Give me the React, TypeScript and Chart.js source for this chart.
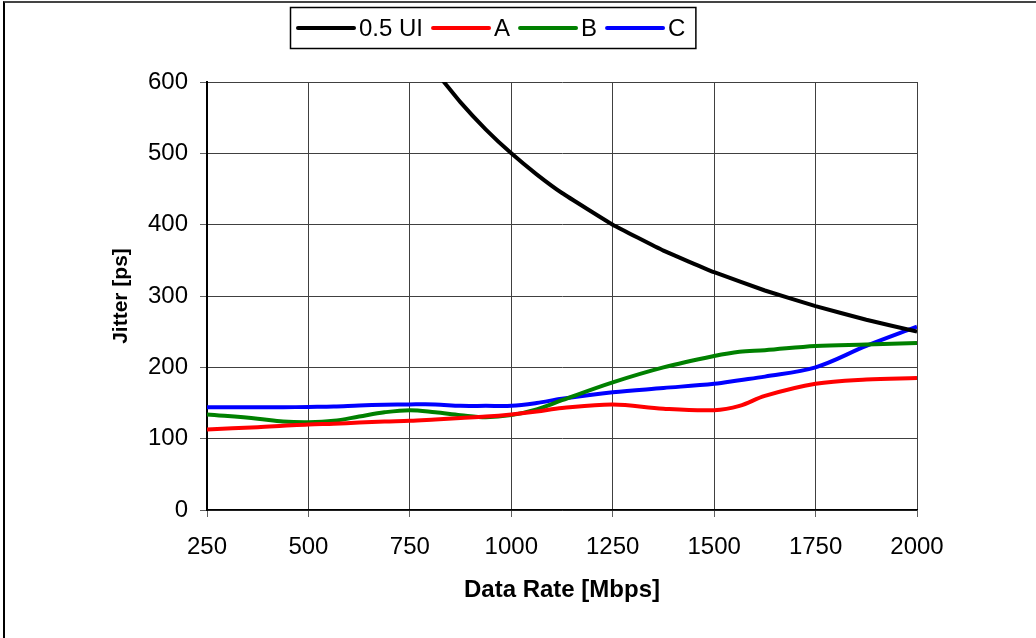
import React, { useEffect, useRef } from 'react';
import { Chart, registerables } from 'chart.js';

Chart.register(...registerables);

const FONT = '"Liberation Sans", Arial, Helvetica, sans-serif';

// Data rates [Mbps]
const uiRates = [750, 812.5, 875, 937.5, 1000, 1062.5, 1125, 1250, 1375, 1500, 1625, 1750, 1875, 2000];
const uiHalf = [666.7, 615.4, 571.4, 533.3, 500, 470.6, 444.4, 400, 363.6, 333.3, 307.7, 285.7, 266.7, 250];

const rates = [250, 375, 437.5, 500, 562.5, 625, 687.5, 750, 812.5, 875, 937.5, 1000, 1062.5, 1125, 1250, 1375, 1500, 1562.5, 1625, 1750, 1875, 2000];
const seriesA = [113, 116, 118, 120, 121, 122.5, 124, 125, 127, 129, 131, 134, 138, 143, 148, 142, 140, 146, 160, 177, 183, 185];
const seriesB = [134, 128, 124, 123, 125, 131, 137, 140, 137, 133, 130, 133, 141, 154, 179, 200, 216, 222, 224, 230, 232, 234];
const seriesC = [144, 144, 144, 144.5, 145, 146.5, 147.5, 148, 148, 146, 146, 146, 150, 156, 165, 171, 177, 182, 187, 200, 230, 257];

const legendLabels = ['0.5 UI', 'A', 'B', 'C'];
const seriesColors = ['#000000', '#ff0000', '#008000', '#0000ff'];

const xTicks = [250, 500, 750, 1000, 1250, 1500, 1750, 2000];
const yTicks = [0, 100, 200, 300, 400, 500, 600];

const xTitle = 'Data Rate [Mbps]';
const yTitle = 'Jitter [ps]';

const toPoints = (xs: number[], ys: number[]) => xs.map((x, i) => ({ x, y: ys[i] }));

const boxLegend = {
  id: 'boxLegend',
  afterDraw(chart: any) {
    const ctx = chart.ctx as CanvasRenderingContext2D;
    ctx.save();
    ctx.font = `24px ${FONT}`;
    const sample = 56;
    const gapText = 5;
    const gapItem = 10;
    const padL = 8;
    const padR = 10;
    const widths = legendLabels.map((l) => ctx.measureText(l).width);
    const total =
      padL + widths.reduce((s, w) => s + sample + gapText + w, 0) + gapItem * (legendLabels.length - 1) + padR;
    const cx = 488;
    const left = Math.round(cx - total / 2);
    const top = 4;
    const height = 41;
    ctx.fillStyle = '#ffffff';
    ctx.fillRect(left, top, total, height);
    ctx.strokeStyle = '#000000';
    ctx.lineWidth = 1.5;
    ctx.strokeRect(left + 0.5, top + 0.5, total, height);
    const cy = top + height / 2 + 0.5;
    let x = left + padL;
    legendLabels.forEach((label, i) => {
      ctx.strokeStyle = seriesColors[i];
      ctx.lineWidth = 4;
      ctx.lineCap = 'round';
      ctx.beginPath();
      ctx.moveTo(x, cy);
      ctx.lineTo(x + sample, cy);
      ctx.stroke();
      x += sample + gapText;
      ctx.fillStyle = '#000000';
      ctx.textBaseline = 'middle';
      ctx.textAlign = 'left';
      ctx.fillText(label, x, cy + 1);
      x += widths[i] + gapItem;
    });
    ctx.restore();
  },
};

export default function App() {
  const ref = useRef<HTMLCanvasElement | null>(null);

  useEffect(() => {
    if (!ref.current) return;
    const lineDs = (label: string, data: any[], color: string, tension: number) => ({
      label,
      data,
      borderColor: color,
      backgroundColor: color,
      borderWidth: 4,
      pointRadius: 0,
      tension,
      fill: false,
    });
    const chart = new Chart(ref.current, {
      type: 'line',
      data: {
        datasets: [
          lineDs(legendLabels[0], toPoints(uiRates, uiHalf), seriesColors[0], 0.1),
          lineDs(legendLabels[1], toPoints(rates, seriesA), seriesColors[1], 0.35),
          lineDs(legendLabels[2], toPoints(rates, seriesB), seriesColors[2], 0.35),
          lineDs(legendLabels[3], toPoints(rates, seriesC), seriesColors[3], 0.35),
        ],
      },
      options: {
        responsive: false,
        animation: false,
        layout: { padding: { left: 0, top: 79, right: 119, bottom: 28 } },
        plugins: {
          legend: { display: false },
          tooltip: { enabled: false },
        },
        scales: {
          x: {
            type: 'linear',
            min: 250,
            max: 2000,
            afterBuildTicks: (scale: any) => {
              scale.ticks = xTicks.map((v) => ({ value: v }));
            },
            afterFit: (scale: any) => {
              scale.height = 100;
            },
            grid: { color: '#404040', lineWidth: 1, tickLength: 7, tickColor: '#606060' },
            border: { color: '#000000', width: 1.5 },
            ticks: {
              color: '#000000',
              font: { family: FONT, size: 24 },
              padding: 16,
              maxRotation: 0,
              autoSkip: false,
              callback: (v: any) => String(v),
            },
            title: {
              display: true,
              text: xTitle,
              color: '#000000',
              font: { family: FONT, size: 24, weight: 'bold' },
              padding: { top: 0, bottom: 5 },
            },
          },
          y: {
            type: 'linear',
            min: 0,
            max: 600,
            afterBuildTicks: (scale: any) => {
              scale.ticks = yTicks.map((v) => ({ value: v }));
            },
            afterFit: (scale: any) => {
              scale.width = 202;
            },
            grid: { color: '#404040', lineWidth: 1, tickLength: 7, tickColor: '#606060' },
            border: { color: '#000000', width: 2 },
            ticks: {
              color: '#000000',
              font: { family: FONT, size: 24 },
              padding: 12,
              autoSkip: false,
              callback: (v: any) => String(v),
            },
            title: {
              display: true,
              text: yTitle,
              color: '#000000',
              font: { family: FONT, size: 21, weight: 'bold' },
              padding: { top: 104, bottom: 0 },
            },
          },
        },
      },
      plugins: [boxLegend],
    } as any);
    return () => chart.destroy();
  }, []);

  return (
    <div
      style={{
        position: 'absolute',
        left: 3,
        top: 1,
        width: 1031,
        height: 635,
        borderTop: '2px solid #444',
        borderLeft: '2px solid #000',
        background: '#fff',
      }}
    >
      <canvas ref={ref} width={1031} height={635} style={{ display: 'block', width: 1031, height: 635 }} />
    </div>
  );
}
